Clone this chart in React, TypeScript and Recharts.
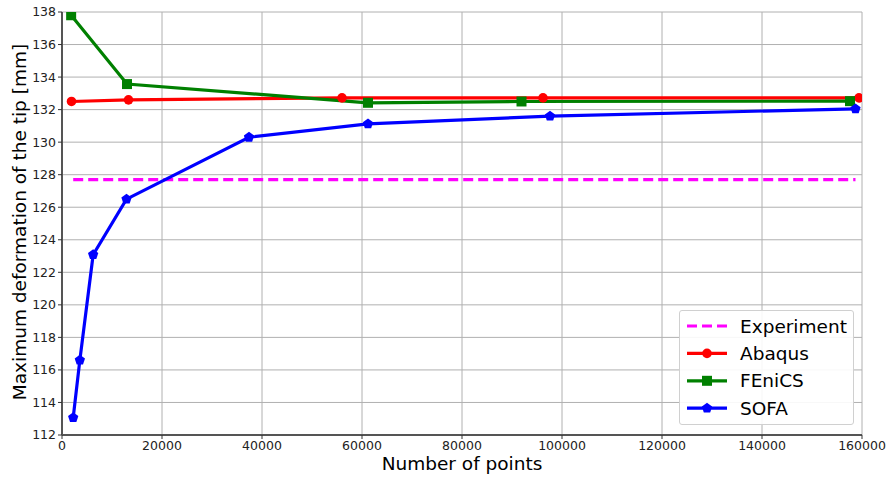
import React from "react";
import {
  LineChart,
  Line,
  XAxis,
  YAxis,
  CartesianGrid,
} from "recharts";

// ---- data ----
const experimentX = [2240, 158700];
const experimentY = [127.7, 127.7];

const abaqusX = [1900, 13300, 56000, 96200, 159400];
const abaqusY = [132.5, 132.6, 132.72, 132.72, 132.72];

const fenicsX = [1830, 13000, 61200, 91900, 157600];
const fenicsY = [137.8, 133.57, 132.42, 132.5, 132.52];

const sofaX = [2240, 3570, 6230, 12900, 37400, 61200, 97600, 158700];
const sofaY = [113.07, 116.6, 123.08, 126.5, 130.3, 131.12, 131.6, 132.05];

const xTicks = [0, 20000, 40000, 60000, 80000, 100000, 120000, 140000, 160000];
const yTicks = [112, 114, 116, 118, 120, 122, 124, 126, 128, 130, 132, 134, 136, 138];

const legendNames = ["Experiment", "Abaqus", "FEniCS", "SOFA"];

const toRows = (xs: number[], ys: number[]) => xs.map((x, i) => ({ x, y: ys[i] }));

const experimentData = toRows(experimentX, experimentY);
const abaqusData = toRows(abaqusX, abaqusY);
const fenicsData = toRows(fenicsX, fenicsY);
const sofaData = toRows(sofaX, sofaY);

const RED = "#ff0000";
const GREEN = "#008000";
const BLUE = "#0000ff";
const MAGENTA = "#ff00ff";
const FONT = "'DejaVu Sans', sans-serif";

const pentagonPoints = (cx: number, cy: number, r: number) => {
  const pts: string[] = [];
  for (let i = 0; i < 5; i++) {
    const a = -Math.PI / 2 + (i * 2 * Math.PI) / 5;
    pts.push(`${cx + r * Math.cos(a)},${cy + r * Math.sin(a)}`);
  }
  return pts.join(" ");
};

const CircleDot = (props: any) => {
  const { cx, cy, index } = props;
  if (cx == null || cy == null) return <g key={index} />;
  return <circle key={index} cx={cx} cy={cy} r={4.8} fill={RED} />;
};
const SquareDot = (props: any) => {
  const { cx, cy, index } = props;
  if (cx == null || cy == null) return <g key={index} />;
  return <rect key={index} x={cx - 5} y={cy - 5} width={10} height={10} fill={GREEN} />;
};
const PentDot = (props: any) => {
  const { cx, cy, index } = props;
  if (cx == null || cy == null) return <g key={index} />;
  return <polygon key={index} points={pentagonPoints(cx, cy, 5.4)} fill={BLUE} />;
};

const LegendBox = () => {
  const rows = [
    { name: legendNames[0], color: MAGENTA, dash: true, marker: null as any },
    { name: legendNames[1], color: RED, dash: false, marker: "circle" },
    { name: legendNames[2], color: GREEN, dash: false, marker: "square" },
    { name: legendNames[3], color: BLUE, dash: false, marker: "pent" },
  ];
  return (
    <div
      style={{
        position: "absolute",
        left: 679,
        top: 310,
        width: 175,
        height: 115,
        background: "rgba(255,255,255,0.9)",
        border: "1px solid #d0d0d0",
        borderRadius: 3,
        boxSizing: "border-box",
      }}
    >
      <svg width={175} height={115} style={{ position: "absolute", left: 0, top: 0 }}>
        {rows.map((r, i) => {
          const cy = 15 + i * 27.4;
          return (
            <g key={r.name}>
              <line
                x1={7}
                x2={47}
                y1={cy}
                y2={cy}
                stroke={r.color}
                strokeWidth={3.2}
                strokeDasharray={r.dash ? "10 5" : undefined}
              />
              {r.marker === "circle" && <circle cx={27} cy={cy} r={4.8} fill={r.color} />}
              {r.marker === "square" && <rect x={22} y={cy - 5} width={10} height={10} fill={r.color} />}
              {r.marker === "pent" && <polygon points={pentagonPoints(27, cy, 5.4)} fill={r.color} />}
              <text
                x={60}
                y={cy + 6.5}
                fontFamily={FONT}
                fontSize={18.5}
                fill="#000"
              >
                {r.name}
              </text>
            </g>
          );
        })}
      </svg>
    </div>
  );
};

export default function App() {
  return (
    <div style={{ position: "absolute", left: 0, top: 0, width: 890, height: 478, background: "#fff" }}>
      <LineChart
        width={890}
        height={478}
        margin={{ top: 12, right: 28, bottom: 0, left: 0 }}
      >
        <CartesianGrid stroke="#b0b0b0" strokeWidth={1} />
        <XAxis
          xAxisId={0}
          dataKey="x"
          type="number"
          domain={[0, 160000]}
          ticks={xTicks}
          allowDataOverflow
          interval={0}
          tickSize={4}
          tickMargin={2}
          stroke="#555"
          axisLine={{ stroke: "#555", strokeWidth: 2 }}
          tickLine={{ stroke: "#333", strokeWidth: 1 }}
          tick={{ fill: "#222", fontSize: 12.5, fontFamily: FONT }}
          height={43}
          label={(p: any) => (
            <text
              x={462}
              y={470}
              textAnchor="middle"
              fontFamily={FONT}
              fontSize={18.5}
              fill="#000"
            >
              Number of points
            </text>
          )}
        />
        <XAxis
          xAxisId="top"
          orientation="top"
          type="number"
          domain={[0, 160000]}
          tick={false}
          tickLine={false}
          height={0}
          axisLine={{ stroke: "#555", strokeWidth: 2 }}
        />
        <YAxis
          yAxisId={0}
          type="number"
          domain={[112, 138]}
          ticks={yTicks}
          allowDataOverflow
          interval={0}
          width={62}
          tickSize={4}
          tickMargin={2}
          axisLine={{ stroke: "#555", strokeWidth: 2 }}
          tickLine={{ stroke: "#333", strokeWidth: 1 }}
          tick={{ fill: "#222", fontSize: 12.5, fontFamily: FONT }}
          label={(p: any) => (
            <text
              x={26}
              y={222}
              transform="rotate(-90, 26, 222)"
              textAnchor="middle"
              fontFamily={FONT}
              fontSize={18.5}
              fill="#000"
            >
              Maximum deformation of the tip [mm]
            </text>
          )}
        />
        <YAxis
          yAxisId="right"
          orientation="right"
          type="number"
          domain={[112, 138]}
          tick={false}
          tickLine={false}
          width={0}
          axisLine={{ stroke: "#555", strokeWidth: 2 }}
        />
        <Line
          data={experimentData}
          dataKey="y"
          stroke={MAGENTA}
          strokeWidth={3.2}
          strokeDasharray="10 5"
          dot={false}
          isAnimationActive={false}
          name={legendNames[0]}
        />
        <Line
          data={abaqusData}
          dataKey="y"
          stroke={RED}
          strokeWidth={3.2}
          dot={CircleDot}
          activeDot={false}
          isAnimationActive={false}
          name={legendNames[1]}
        />
        <Line
          data={fenicsData}
          dataKey="y"
          stroke={GREEN}
          strokeWidth={3.2}
          dot={SquareDot}
          activeDot={false}
          isAnimationActive={false}
          name={legendNames[2]}
        />
        <Line
          data={sofaData}
          dataKey="y"
          stroke={BLUE}
          strokeWidth={3.2}
          dot={PentDot}
          activeDot={false}
          isAnimationActive={false}
          name={legendNames[3]}
        />
      </LineChart>
      <LegendBox />
    </div>
  );
}
